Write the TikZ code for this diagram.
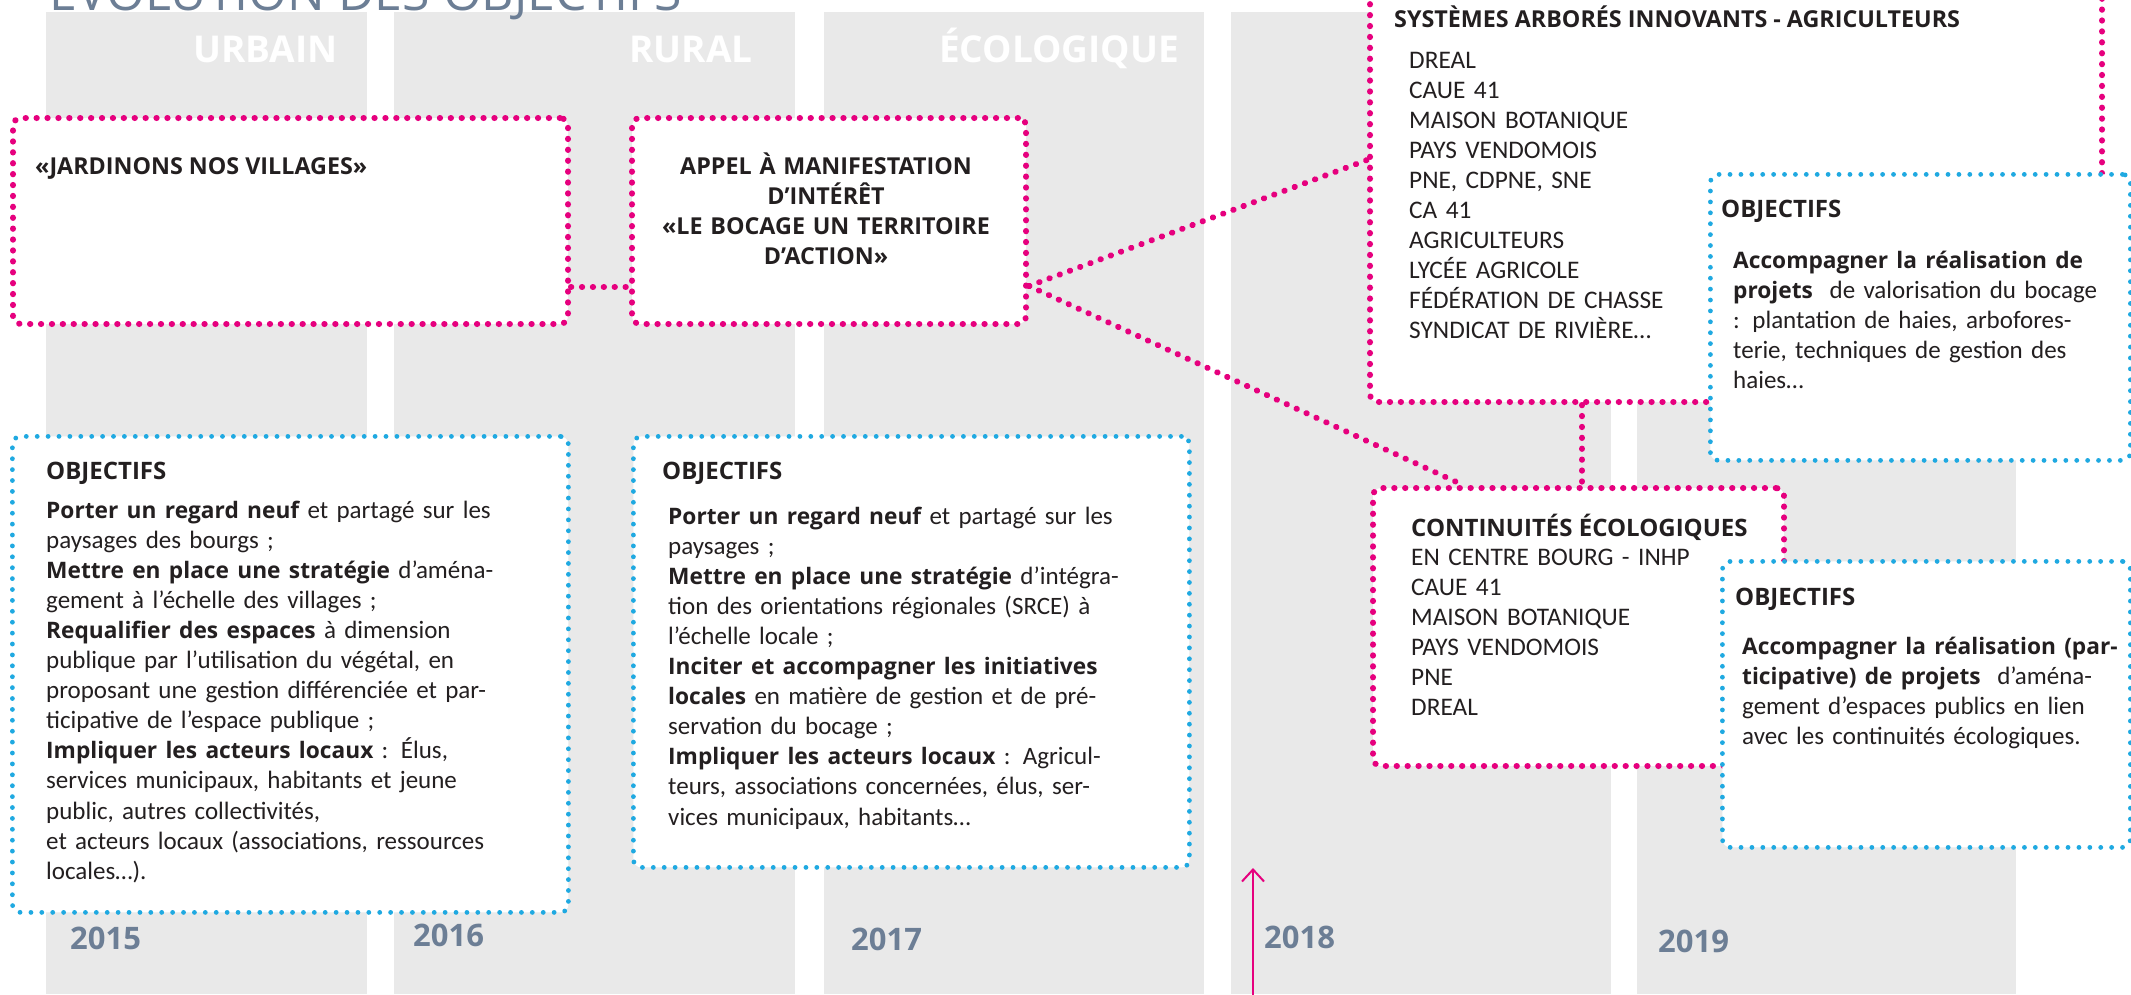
\documentclass[tikz,border=0pt]{standalone}
\usepackage{fontspec}
\setmainfont{Carlito}
\newfontfamily\osans{Open Sans}
\usetikzlibrary{arrows.meta,calc}
\definecolor{pinkc}{HTML}{E6007E}
\definecolor{bluec}{HTML}{1FA9E1}
\definecolor{colgrey}{HTML}{E9E9E9}
\definecolor{yeargrey}{HTML}{6C7E95}
\definecolor{txt}{HTML}{231F20}
\newcommand\bo[1]{{\osans\bfseries\fontsize{22.7}{30.1}\selectfont #1}}
\begin{document}
\begin{tikzpicture}[x=1pt,y=-1pt,
  colbar/.style={fill=colgrey,draw=none},
  pinkbox/.style={draw=pinkc,fill=white,line width=6pt,line cap=round,dash pattern=on 0.3pt off 10.6pt,rounded corners=8pt,anchor=north west,inner sep=0pt},
  bluebox/.style={draw=bluec,fill=white,line width=4.8pt,line cap=round,dash pattern=on 0pt off 10.9pt,rounded corners=8pt,anchor=north west,inner sep=0pt},
  pinklink/.style={draw=pinkc,line width=6pt,line cap=round,dash pattern=on 0.3pt off 10.6pt},
  pinkarrow/.style={draw=pinkc,line width=2pt,-{Straight Barb[length=12pt,width=22pt,line width=2pt]}},
  maintitle/.style={anchor=base west,inner sep=0pt,text=yeargrey,font=\osans\fontsize{50}{50}\selectfont},
  collabel/.style={anchor=base east,inner sep=0pt,text=white,font=\osans\bfseries\fontsize{37}{37}\selectfont},
  yearlabel/.style={anchor=base west,inner sep=0pt,text=yeargrey,font=\osans\bfseries\fontsize{31}{31}\selectfont},
  boxtitle/.style={anchor=base west,inner sep=0pt,text=txt,font=\osans\bfseries\fontsize{23.3}{30}\selectfont},
  objtitle/.style={anchor=base west,inner sep=0pt,text=txt,font=\osans\bfseries\fontsize{24}{30}\selectfont},
  bodytxt/.style={anchor=base west,inner sep=0pt,text=txt,align=left,text width=560pt,font=\fontsize{25}{30.1}\selectfont},
  listtxt/.style={anchor=base west,inner sep=0pt,text=txt,align=left,text width=500pt,font=\fontsize{25.3}{30}\selectfont},
]
\useasboundingbox (0,0) rectangle (2131,994);
\fill[white] (0,0) rectangle (2131,994);
% columns
\fill[colbar] (46,12) rectangle (367,994);
\fill[colbar] (394,12) rectangle (795,994);
\fill[colbar] (824,12) rectangle (1204,994);
\fill[colbar] (1231,12) rectangle (1611,994);
\fill[colbar] (1637,12) rectangle (2016,994);
% title
\node[maintitle] (title) at (49,10) {ÉVOLUTION DES OBJECTIFS};
% column labels
\node[collabel] (lurb) at (338,62) {URBAIN};
\node[collabel] (lrur) at (753,62) {RURAL};
\node[collabel] (leco) at (1179,62) {ÉCOLOGIQUE};
% years
\node[yearlabel] (y15) at (70,949) {2015};
\node[yearlabel] (y16) at (413,946) {2016};
\node[yearlabel] (y17) at (851,950) {2017};
\node[yearlabel] (y18) at (1264,948) {2018};
\node[yearlabel] (y19) at (1658,952) {2019};
% arrow
\coordinate (arrbot) at (1253,1000);
\coordinate (arrtop) at (1253,868);
\draw[pinkarrow] (arrbot) -- (arrtop);
% pink boxes
\node[pinkbox,minimum width=555pt,minimum height=206pt] (b1) at (10,115) {};
\node[pinkbox,minimum width=394pt,minimum height=206pt] (b2) at (629,115) {};
\node[pinkbox,minimum width=732pt,minimum height=484pt] (b3) at (1367,-85) {};
\node[pinkbox,minimum width=411pt,minimum height=278pt] (b4) at (1370,485) {};
% connectors
\draw[pinklink] ([yshift=-66pt]b1.east) -- ([yshift=-66pt]b2.west);
\draw[pinklink] ([yshift=-65pt]b2.east) -- (b3.west);
\draw[pinklink] ([yshift=-65pt]b2.east) -- ([xshift=93pt]b4.north west);
\draw[pinklink] ([xshift=215pt]b3.south west) -- ([xshift=212pt]b4.north west);
% blue boxes
\node[bluebox,minimum width=556pt,minimum height=476pt] (o1) at (10,434) {};
\node[bluebox,minimum width=556pt,minimum height=431pt] (o2) at (631,434) {};
\node[bluebox,minimum width=420pt,minimum height=286pt] (o3) at (1708,172) {};
\node[bluebox,minimum width=408pt,minimum height=286pt] (o4) at (1720,559) {};
% texts in pink boxes
\node[boxtitle] (t1) at (35,174) {«JARDINONS NOS VILLAGES»};
\node[boxtitle,anchor=base,align=center,text width=380pt] (t2) at (826,174) {APPEL À MANIFESTATION\\D’INTÉRÊT\\«LE BOCAGE UN TERRITOIRE\\D’ACTION»};
\node[boxtitle] (t3) at (1394,27) {SYSTÈMES ARBORÉS INNOVANTS - AGRICULTEURS};
\node[listtxt] (l3) at (1409,68) {DREAL\\CAUE 41\\MAISON BOTANIQUE\\PAYS VENDOMOIS\\PNE, CDPNE, SNE\\CA 41\\AGRICULTEURS\\LYCÉE AGRICOLE\\FÉDÉRATION DE CHASSE\\SYNDICAT DE RIVIÈRE…};
\node[boxtitle,font=\osans\bfseries\fontsize{24}{30}\selectfont] (t4) at (1411,536) {CONTINUITÉS ÉCOLOGIQUES};
\node[listtxt] (l4) at (1411,565) {EN CENTRE BOURG - INHP\\CAUE 41\\MAISON BOTANIQUE\\PAYS VENDOMOIS\\PNE\\DREAL};
% texts in blue boxes
\node[objtitle] (h1) at (46,479) {OBJECTIFS};
\node[bodytxt] (p1) at (46,518) {\bo{Porter un regard neuf} et partagé sur les\\
paysages des bourgs ;\\
\bo{Mettre en place une stratégie} d’aména-\\
gement à l’échelle des villages ;\\
\bo{Requalifier des espaces} à dimension\\
publique par l’utilisation du végétal, en\\
proposant une gestion différenciée et par-\\
ticipative de l’espace publique ;\\
\bo{Impliquer les acteurs locaux} : Élus,\\
services municipaux, habitants et jeune\\
public, autres collectivités,\\
et acteurs locaux (associations, ressources\\
locales…).};
\node[objtitle] (h2) at (662,479) {OBJECTIFS};
\node[bodytxt] (p2) at (668,524) {\bo{Porter un regard neuf} et partagé sur les\\
paysages ;\\
\bo{Mettre en place une stratégie} d’intégra-\\
tion des orientations régionales (SRCE) à\\
l’échelle locale ;\\
\bo{Inciter et accompagner les initiatives}\\
\bo{locales} en matière de gestion et de pré-\\
servation du bocage ;\\
\bo{Impliquer les acteurs locaux} : Agricul-\\
teurs, associations concernées, élus, ser-\\
vices municipaux, habitants…};
\node[objtitle] (h3) at (1721,217) {OBJECTIFS};
\node[bodytxt] (p3) at (1733,268) {\bo{Accompagner la réalisation de}\\
\bo{projets}\ \ de valorisation du bocage\\
: plantation de haies, arbofores-\\
terie, techniques de gestion des\\
haies…};
\node[objtitle] (h4) at (1735,605) {OBJECTIFS};
\node[bodytxt] (p4) at (1742,654) {\bo{Accompagner la réalisation (par-}\\
\bo{ticipative) de projets}\ \ d’aména-\\
gement d’espaces publics en lien\\
avec les continuités écologiques.};
\end{tikzpicture}
\end{document}
